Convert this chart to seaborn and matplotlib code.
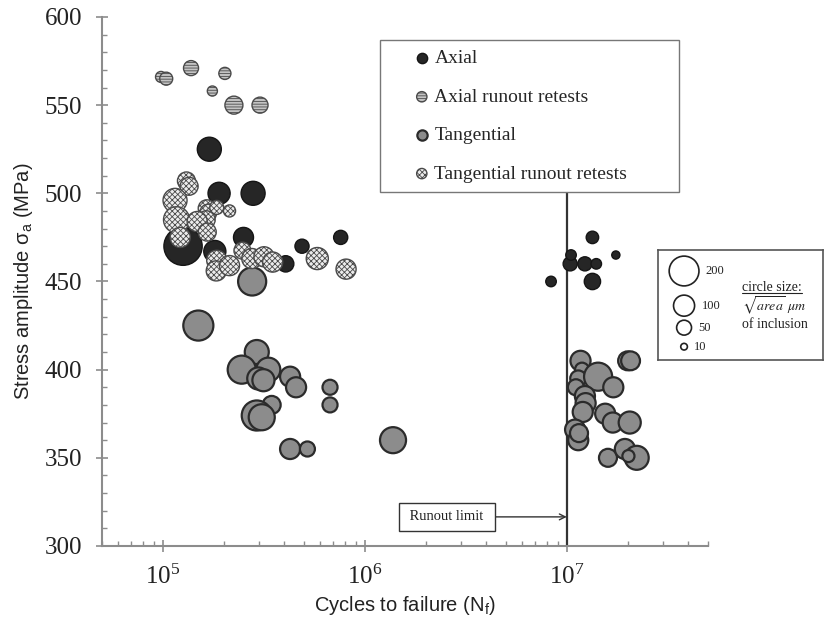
import numpy as np
import pandas as pd
import matplotlib
matplotlib.use("Agg")
import matplotlib.pyplot as plt
import seaborn as sns
from matplotlib.ticker import MultipleLocator, LogLocator, NullFormatter
from matplotlib.legend_handler import HandlerPathCollection
from matplotlib.lines import Line2D

# ---- data: cycles to failure, stress amplitude (MPa), sqrt(area) of inclusion (um)
axial_cycles = [1.70e5, 1.90e5, 2.80e5, 1.26e5, 2.51e5, 4.89e5, 7.6e5, 4.06e5, 1.81e5,
                8.36e6, 1.04e7, 1.05e7, 1.23e7, 1.40e7, 1.34e7, 1.34e7, 1.75e7]
axial_stress = [525, 500, 500, 470, 475, 470, 475, 460, 467,
                450, 460, 465, 460, 460, 450, 475, 465]
axial_incl = [130, 110, 130, 330, 90, 45, 45, 60, 110,
              25, 45, 25, 45, 25, 60, 35, 15]

axial_rt_cycles = [0.98e5, 1.04e5, 1.38e5, 2.03e5, 1.76e5, 2.25e5, 3.03e5]
axial_rt_stress = [566, 565, 571, 568, 558, 550, 550]
axial_rt_incl = [27, 38, 51, 33, 23, 73, 58]

tang_cycles = [2.77e5, 1.50e5, 2.92e5, 2.46e5, 3.33e5, 2.97e5, 3.15e5, 4.27e5, 4.57e5,
               6.73e5, 6.73e5, 3.46e5, 2.92e5, 3.09e5, 4.27e5, 5.2e5, 1.38e6,
               1.17e7, 2.0e7, 2.07e7, 1.19e7, 1.14e7, 1.43e7, 1.11e7, 1.70e7, 1.23e7,
               1.24e7, 1.20e7, 1.55e7, 1.69e7, 2.05e7, 1.10e7, 1.14e7, 1.60e7, 1.94e7,
               2.22e7, 2.02e7, 1.15e7]
tang_stress = [450, 425, 410, 400, 400, 395, 394, 396, 390,
               390, 380, 380, 374, 373, 355, 355, 360,
               405, 405, 405, 400, 395, 396, 390, 390, 385,
               381, 376, 375, 370, 370, 366, 360, 350, 355,
               350, 351, 364]
tang_incl = [178, 204, 130, 178, 130, 110, 110, 91, 91,
             51, 51, 73, 204, 153, 91, 51, 153,
             91, 80, 80, 44, 58, 178, 58, 91, 91,
             91, 91, 91, 91, 110, 91, 91, 73, 91,
             130, 33, 73]

tang_rt_cycles = [1.31e5, 1.35e5, 1.15e5, 1.17e5, 1.22e5, 1.65e5, 1.68e5, 1.64e5, 1.85e5,
                  2.14e5, 1.48e5, 1.66e5, 1.85e5, 1.84e5, 2.14e5, 2.48e5, 2.76e5,
                  3.17e5, 3.5e5, 5.82e5, 8.08e5]
tang_rt_stress = [507, 504, 496, 485, 475, 491.5, 489, 485, 492,
                  490, 484, 478, 462, 456, 459, 467.5, 463,
                  464, 461, 463, 457]
tang_rt_incl = [73, 73, 130, 153, 91, 65, 65, 73, 44,
                33, 91, 73, 91, 91, 91, 65, 91,
                91, 91, 110, 91]

key_sizes = [200, 100, 50, 10]
key_labels = ["200", "100", "50", "10"]
series_labels = ["Axial", "Axial runout retests", "Tangential", "Tangential runout retests"]
runout_cycles = 1e7

sns.set_theme(style="ticks")
plt.rcParams["font.family"] = ["Liberation Serif", "DejaVu Serif"]
plt.rcParams["mathtext.fontset"] = "stix"
plt.rcParams["mathtext.default"] = "regular"
plt.rcParams["hatch.linewidth"] = 0.6

SIZE_NORM = (0, 400)
SIZE_RANGE = (0, 920)

fig = plt.figure(figsize=(8.25, 6.17), dpi=100)
ax = fig.add_axes([0.1236, 0.1151, 0.7345, 0.8574])


def draw(axis, cycles, stress, incl, **style):
    df = pd.DataFrame({"cycles": cycles, "stress": stress, "inclusion": incl})
    sns.scatterplot(data=df, x="cycles", y="stress", size="inclusion",
                    sizes=SIZE_RANGE, size_norm=SIZE_NORM, legend=False,
                    ax=axis, **style)
    return axis.collections[-1]


c_axial = draw(ax, axial_cycles, axial_stress, axial_incl,
               color="#262626", edgecolor="#151515", linewidth=1.0, zorder=3)
c_tang = draw(ax, tang_cycles, tang_stress, tang_incl,
              color="#8c8c8c", edgecolor="#2b2b2b", linewidth=1.6, zorder=4)
c_axrt = draw(ax, axial_rt_cycles, axial_rt_stress, axial_rt_incl,
              color="#c4c4c4", edgecolor="#4a4a4a", linewidth=1.0,
              hatch="------", zorder=5)
c_tgrt = draw(ax, tang_rt_cycles, tang_rt_stress, tang_rt_incl,
              color="#ececec", edgecolor="#4a4a4a", linewidth=1.0,
              hatch="xxxxxx", zorder=6)

ax.set_xscale("log")
ax.set_xlim(5e4, 5e7)
ax.set_ylim(300, 600)
ax.yaxis.set_major_locator(MultipleLocator(50))
ax.yaxis.set_minor_locator(MultipleLocator(10))
ax.xaxis.set_major_locator(LogLocator(base=10, numticks=10))
ax.xaxis.set_minor_locator(LogLocator(base=10, subs=np.arange(2, 10), numticks=20))
ax.xaxis.set_minor_formatter(NullFormatter())

axis_grey = "#8c8c8c"
for side in ["top", "right"]:
    ax.spines[side].set_visible(False)
for side in ["left", "bottom"]:
    ax.spines[side].set_color(axis_grey)
    ax.spines[side].set_linewidth(1.5)
ax.tick_params(which="major", direction="inout", length=8.5, width=1.2,
               color=axis_grey, labelsize=18, labelcolor="#222222")
ax.tick_params(axis="y", which="major", pad=10)
ax.tick_params(axis="x", which="major", pad=9)
ax.tick_params(which="minor", direction="in", length=3.5, width=1.0, color=axis_grey)

ax.set_xlabel("Cycles to failure (N$_\\mathregular{f}$)", family="Liberation Sans",
              fontsize=14.5, color="#222222", labelpad=3.5)
ax.set_ylabel("Stress amplitude σ$_\\mathregular{a}$ (MPa)", family="Liberation Sans",
              fontsize=14.5, color="#222222", labelpad=7)

# runout limit line and its label
ax.vlines(runout_cycles, 300, 500, color="#333333", linewidth=1.6, zorder=2)
ax.annotate(" Runout limit ", xy=(runout_cycles, 316.5), xytext=(2.55e6, 316.5),
            ha="center", va="center", fontsize=10.5, color="#222222",
            bbox=dict(boxstyle="square,pad=0.5", fc="white", ec="#333333", lw=1),
            arrowprops=dict(arrowstyle="->", color="#333333", lw=1,
                            shrinkA=0, shrinkB=0))

# series legend
handles = [c_axial, c_axrt, c_tang, c_tgrt]
hmap = {h: HandlerPathCollection(sizes=[55]) for h in handles}
leg = ax.legend(handles, series_labels, handler_map=hmap,
                loc="upper left", bbox_to_anchor=(0.4606, 0.687, 0.3624, 0.248),
                bbox_transform=fig.transFigure, mode="expand", borderaxespad=0,
                fontsize=14, frameon=True, fancybox=False, framealpha=1,
                edgecolor="#777777", borderpad=0.5, labelspacing=1.07,
                handlelength=3.3, handletextpad=-1.0)
leg.get_frame().set_linewidth(1.0)
leg.set_zorder(10)

# inclusion size key
lax = fig.add_axes([658 / 825, 1 - 360 / 617, 165 / 825, 110 / 617])
key_df = pd.DataFrame({"kx": [0.158] * 4, "ky": [0.809, 0.494, 0.294, 0.121],
                       "inclusion": key_sizes})
sns.scatterplot(data=key_df, x="kx", y="ky", size="inclusion", sizes=SIZE_RANGE,
                size_norm=SIZE_NORM, legend=False, color="white",
                edgecolor="#222222", linewidth=1.2, ax=lax)
lax.set_xlim(0, 1)
lax.set_ylim(0, 1)
lax.set_xticks([])
lax.set_yticks([])
lax.set_xlabel("")
lax.set_ylabel("")
for sp in lax.spines.values():
    sp.set_color("#555555")
    sp.set_linewidth(1.2)
for lbl, lx, ly in zip(key_labels, [0.285, 0.267, 0.242, 0.218],
                       [0.809, 0.494, 0.294, 0.121]):
    lax.text(lx, ly, lbl, fontsize=9, va="center", ha="left", color="#222222")
t_cs = lax.text(0.51, 0.655, "circle size:", fontsize=10, va="center", ha="left",
                color="#222222")
lax.text(0.51, 0.49, r"$\sqrt{\mathit{area}}\ \mathit{\mu m}$", fontsize=10,
         va="center", ha="left", color="#222222")
lax.text(0.51, 0.325, "of inclusion", fontsize=10, va="center", ha="left",
         color="#222222")

fig.canvas.draw()
bb = t_cs.get_window_extent().transformed(fig.transFigure.inverted())
fig.add_artist(Line2D([bb.x0, bb.x1], [bb.y0 + 0.002, bb.y0 + 0.002],
                      transform=fig.transFigure, color="#222222", linewidth=0.8))

fig.savefig("out.png", dpi=100)
